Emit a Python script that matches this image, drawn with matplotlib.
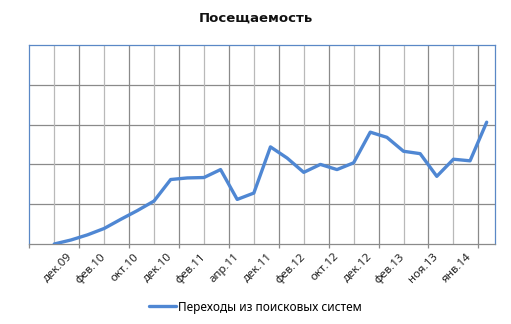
import matplotlib
matplotlib.use("Agg")
import matplotlib.pyplot as plt
import numpy as np

plt.rcParams['font.family'] = ['Noto Sans', 'DejaVu Sans']

title = "Посещаемость"
series_name = "Переходы из поисковых систем"
tick_labels = ["дек.09", "фев.10", "окт.10", "дек.10", "фев.11", "апр.11",
               "дек.11", "фев.12", "окт.12", "дек.12", "фев.13", "ноя.13", "янв.14"]
values = [0.00, 0.10, 0.23, 0.39, 0.62, 0.84, 1.08, 1.62, 1.66, 1.67, 1.87, 1.12,
          1.28, 2.44, 2.16, 1.80, 2.00, 1.87, 2.04, 2.81, 2.68, 2.33, 2.27, 1.70,
          2.13, 2.09, 3.06]

n_cat = len(values) + 1          # first category is blank
x_vals = np.arange(1, 1 + len(values))
x_labels = np.arange(2, 2 + 2 * len(tick_labels), 2)

fig = plt.figure(figsize=(5.11, 3.24), dpi=100)
ax = fig.add_axes([29.3 / 511, 1 - 244 / 324, (495 - 29.3) / 511, (244 - 45) / 324])

ax.set_xlim(-0.5, n_cat - 0.5)
ax.set_ylim(0, 5)

# gridlines
for k in range(1, 5):
    ax.axhline(k, color='#8a8a8a', lw=0.9, zorder=1)
for xm in np.arange(2.5, n_cat - 0.5, 3):
    ax.axvline(xm, color='#8a8a8a', lw=0.9, zorder=1)
for xn in np.arange(1, n_cat - 0.5, 3):
    ax.axvline(xn, color='#b9b9b9', lw=0.9, zorder=1)

line, = ax.plot(x_vals, values, color='#4f87d3', lw=2.4, solid_joinstyle='round',
                solid_capstyle='round', zorder=3, label=series_name)

ax.set_yticks([])
ax.set_xticks(x_labels)
ax.set_xticklabels(tick_labels, rotation=45, ha='right', va='center',
                   rotation_mode='anchor', fontsize=8.3, color='#222222')
ax.tick_params(axis='x', which='major', length=0, pad=8.0)
ax.set_xticks(np.arange(-0.5, n_cat - 1, 3), minor=True)
ax.tick_params(axis='x', which='minor', length=3, width=0.9, color='#8a8a8a')

for s in ['left', 'top', 'right']:
    ax.spines[s].set_color('#5a88c6')
    ax.spines[s].set_linewidth(0.9)
ax.spines['bottom'].set_color('#8a8a8a')
ax.spines['bottom'].set_linewidth(0.9)

fig.text(0.5, 1 - 18 / 324, title, ha='center', va='center',
         fontsize=9.5, fontweight='bold', family=['DejaVu Sans'], color='#111111')

fig.legend(handles=[line], loc='center', bbox_to_anchor=(0.5, 1 - 307 / 324),
           frameon=False, fontsize=8.5, handlelength=2.3, handletextpad=0.2)

fig.savefig("out.png", dpi=100)
